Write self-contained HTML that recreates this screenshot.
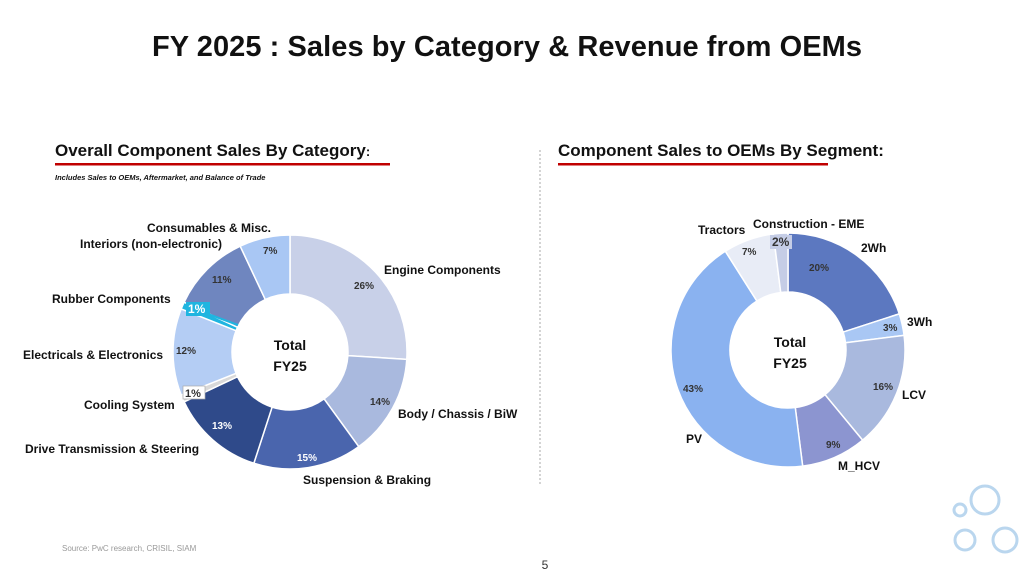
<!DOCTYPE html>
<html><head><meta charset="utf-8"><style>
body{margin:0;width:1024px;height:576px;background:#fff;overflow:hidden;font-family:"Liberation Sans",sans-serif}
svg{position:absolute;left:0;top:0}
</style></head><body>
<svg id="s" width="1024" height="576" viewBox="0 0 1024 576" font-family="Liberation Sans, sans-serif">
<text x="507" y="56" text-anchor="middle" font-size="29" font-weight="bold" fill="#111" textLength="710">FY 2025 : Sales by Category &amp; Revenue from OEMs</text>
<text x="55" y="156" font-size="17" font-weight="bold" fill="#111">Overall Component Sales By Category<tspan font-size="13">:</tspan></text>
<rect x="55" y="163" width="335" height="2.5" fill="#c00000"/>
<text x="55" y="180" font-size="7.5" font-weight="bold" font-style="italic" fill="#111">Includes Sales to OEMs, Aftermarket, and Balance of Trade</text>
<text x="558" y="156" font-size="17" font-weight="bold" fill="#111">Component Sales to OEMs By Segment:</text>
<rect x="558" y="163" width="270" height="2.5" fill="#c00000"/>
<line x1="540" y1="150" x2="540" y2="485" stroke="#aaa" stroke-dasharray="2,2"/>
<g id="g1"></g><g id="g2"></g>
<g font-size="12" font-weight="bold" fill="#111">
<text x="209" y="232" text-anchor="middle">Consumables &amp; Misc.</text>
<text x="151" y="248" text-anchor="middle">Interiors (non-electronic)</text>
<text x="384" y="274">Engine Components</text>
<text x="52" y="303">Rubber Components</text>
<text x="23" y="359">Electricals &amp; Electronics</text>
<text x="84" y="409">Cooling System</text>
<text x="398" y="418">Body / Chassis / BiW</text>
<text x="25" y="453">Drive Transmission &amp; Steering</text>
<text x="303" y="484">Suspension &amp; Braking</text>
<text x="290" y="350" text-anchor="middle" font-size="14">Total</text>
<text x="290" y="371" text-anchor="middle" font-size="14">FY25</text>
<text x="698" y="234">Tractors</text>
<text x="753" y="228">Construction - EME</text>
<text x="861" y="252">2Wh</text>
<text x="907" y="326">3Wh</text>
<text x="902" y="399">LCV</text>
<text x="686" y="443">PV</text>
<text x="838" y="470">M_HCV</text>
<text x="790" y="347" text-anchor="middle" font-size="14">Total</text>
<text x="790" y="368" text-anchor="middle" font-size="14">FY25</text>
</g>
<g font-size="10" font-weight="bold" fill="#333">
<text x="263" y="254">7%</text><text x="212" y="283">11%</text><text x="354" y="289">26%</text>
<text x="176" y="354">12%</text><text x="370" y="405">14%</text><text x="212" y="429" fill="#fff">13%</text>
<text x="297" y="461" fill="#fff">15%</text>
<text x="742" y="255">7%</text><text x="809" y="271">20%</text><text x="883" y="331">3%</text>
<text x="873" y="390">16%</text><text x="683" y="392">43%</text><text x="826" y="448">9%</text>
</g>
<rect x="186" y="302" width="24" height="14" fill="#1fb5e0"/><text x="188" y="313" font-size="12" font-weight="bold" fill="#fff">1%</text>
<line x1="208" y1="314" x2="238" y2="325" stroke="#1fb5e0" stroke-width="2"/>
<rect x="183" y="386" width="22" height="13" fill="#fff" stroke="#aaa" stroke-width="0.7"/><text x="185" y="397" font-size="11" font-weight="bold" fill="#333">1%</text>
<rect x="770" y="235" width="22" height="14" fill="#c5cde6"/><text x="772" y="246" font-size="12" font-weight="bold" fill="#333">2%</text>
<text x="62" y="551" font-size="8" fill="#999">Source: PwC research, CRISIL, SIAM</text>
<text x="545" y="569" text-anchor="middle" font-size="12" fill="#333">5</text>
<g fill="none" stroke="#a9cdeb" stroke-width="3" opacity="0.8">
<circle cx="985" cy="500" r="14"/><circle cx="965" cy="540" r="10"/><circle cx="1005" cy="540" r="12"/><circle cx="960" cy="510" r="6"/>
</g>
</svg>
<script>
function donut(id,cx,cy,R,r,data){
 var g=document.getElementById(id),a=-Math.PI/2,h='';
 data.forEach(function(d){var b=a+d[0]/100*2*Math.PI,l=(b-a)>Math.PI?1:0;
 function p(rr,t){return (cx+rr*Math.cos(t)).toFixed(2)+','+(cy+rr*Math.sin(t)).toFixed(2)}
 h+='<path d="M'+p(R,a)+'A'+R+','+R+' 0 '+l+' 1 '+p(R,b)+'L'+p(r,b)+'A'+r+','+r+' 0 '+l+' 0 '+p(r,a)+'Z" fill="'+d[1]+'" stroke="#fff" stroke-width="1.5"/>';a=b;});
 g.innerHTML=h;}
donut('g1',290,352,117,58,[[26,'#c8d0e8'],[14,'#a9b9de'],[15,'#4a65ad'],[13,'#2f4a8a'],[1,'#d9d9d9'],[12,'#b4cdf4'],[1,'#1fb5e0'],[11,'#6f86bf'],[7,'#a9c7f4']]);
donut('g2',788,350,117,58,[[20,'#5c78c0'],[3,'#a9c7f4'],[16,'#a9b9de'],[9,'#8c95d0'],[43,'#8ab2f0'],[7,'#e8ecf6'],[2,'#c5cde6']]);
</script>
</body></html>
